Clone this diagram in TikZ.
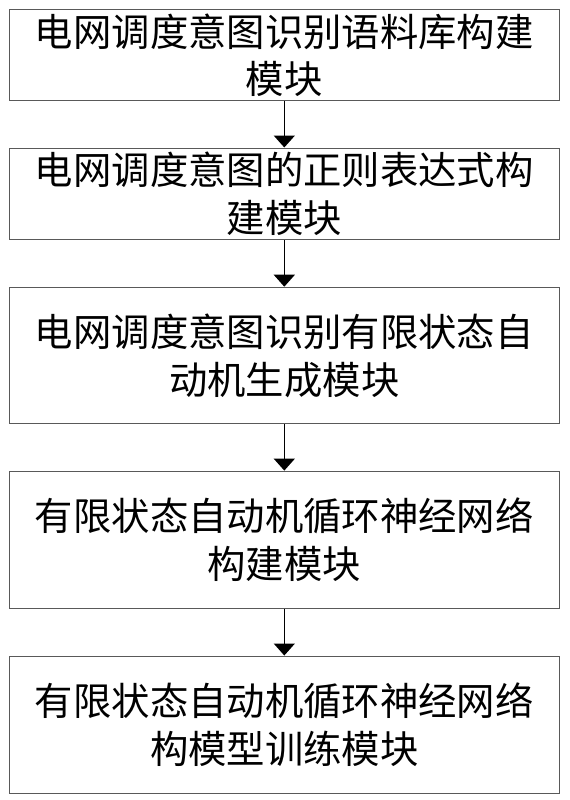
\documentclass[tikz,border=0pt]{standalone}
\usepackage{fontspec}
\setmainfont{Noto Sans CJK SC}
\usetikzlibrary{positioning}
\usetikzlibrary{arrows.meta}

\begin{document}
\begin{tikzpicture}[>={Triangle[width=21bp,length=12bp]},x=1bp,y=1bp,
    modbox/.style={draw=black!65,line width=0.9bp,minimum width=549.5bp,
        inner sep=0pt,align=center,font=\fontsize{38.5}{48}\selectfont},
    flow/.style={->,line width=1.6bp}]
    \useasboundingbox (0,0) rectangle (570,-800);
    \node[modbox,minimum height=90.7bp] (corpus) at (284.3,-55.3)
        {电网调度意图识别语料库构建\\模块};
    \node[modbox,minimum height=91.6bp,below=46.4bp of corpus] (regex)
        {电网调度意图的正则表达式构\\建模块};
    \node[modbox,minimum height=136.7bp,below=46.7bp of regex] (fsa)
        {电网调度意图识别有限状态自\\动机生成模块};
    \node[modbox,minimum height=137bp,below=46.3bp of fsa] (fsrnn)
        {有限状态自动机循环神经网络\\构建模块};
    \node[modbox,minimum height=137bp,below=47bp of fsrnn] (train)
        {有限状态自动机循环神经网络\\构模型训练模块};
    \draw[flow] (corpus) -- (regex);
    \draw[flow] (regex) -- (fsa);
    \draw[flow] (fsa) -- (fsrnn);
    \draw[flow] (fsrnn) -- (train);
\end{tikzpicture}
\end{document}
